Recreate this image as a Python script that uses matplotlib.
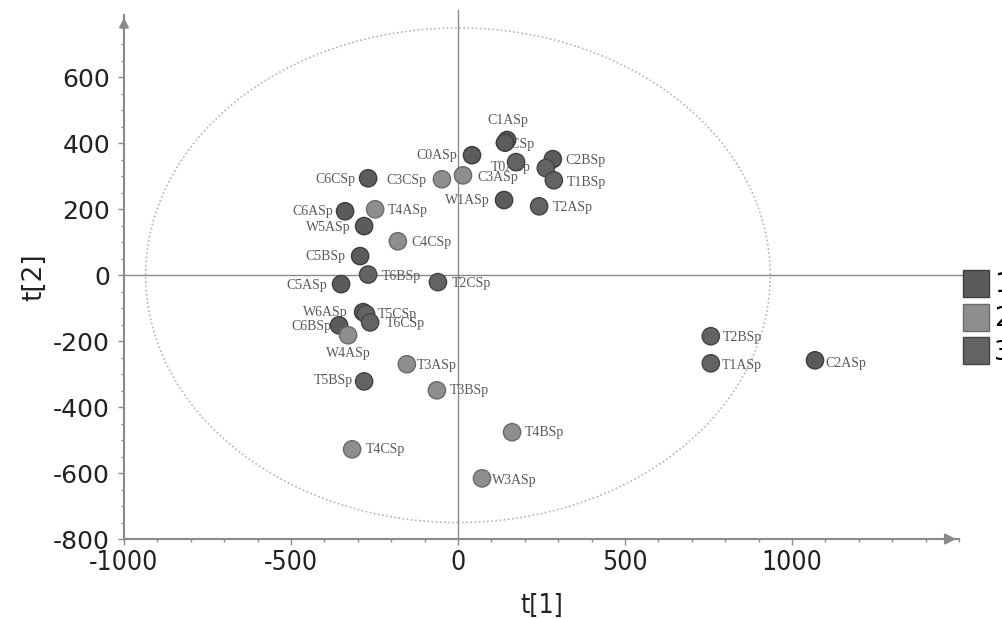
import matplotlib.pyplot as plt
from matplotlib.patches import Ellipse, Patch
from matplotlib.ticker import MultipleLocator

plt.rcParams['axes.unicode_minus'] = False

# PCA scores
names = ['C1ASp', 'C1CSp', 'C0ASp', 'T0ASp', 'C2BSp', '', 'T1BSp', 'C3ASp',
         'C3CSp', 'C6CSp', 'W1ASp', 'T2ASp', 'C6ASp', 'T4ASp', 'W5ASp',
         'C4CSp', 'C5BSp', 'T6BSp', 'T2CSp', 'C5ASp', 'W6ASp', 'T5CSp',
         'T6CSp', 'C6BSp', 'W4ASp', 'T3ASp', 'T5BSp', 'T3BSp', 'T4CSp',
         'T4BSp', 'W3ASp', 'T2BSp', 'T1ASp', 'C2ASp']
t1 = [147, 141, 42, 174, 284, 263, 287, 15,
      -48, -269, 138, 243, -338, -248, -281,
      -180, -293, -269, -60, -350, -284, -275,
      -263, -356, -329, -153, -281, -63, -317,
      162, 72, 757, 757, 1069]
t2 = [410, 402, 364, 343, 352, 325, 288, 303,
      291, 294, 228, 209, 194, 200, 149,
      103, 58, 2, -21, -27, -112, -118,
      -143, -152, -182, -270, -322, -349, -528,
      -476, -616, -185, -267, -258]
group = [1, 1, 1, 3, 1, 3, 3, 2,
         2, 1, 1, 3, 1, 2, 1,
         2, 1, 3, 3, 1, 1, 3,
         3, 1, 2, 2, 3, 2, 2,
         2, 2, 3, 3, 1]
legend_labels = ['1', '2', '3']

# label placement: (dx px, dy px up, ha)
label_pos = {
    'C1ASp': (1, 20, 'center'), 'C1CSp': (9, -2, 'center'),
    'C0ASp': (-15, 0, 'right'), 'T0ASp': (-5, -5, 'center'),
    'C2BSp': (13, -1, 'left'), 'T1BSp': (13, -2, 'left'),
    'C3ASp': (14, -2, 'left'), 'C3CSp': (-16, -1, 'right'),
    'C6CSp': (-13, -1, 'right'), 'W1ASp': (-14, 0, 'right'),
    'T2ASp': (14, -1, 'left'), 'C6ASp': (-12, 0, 'right'),
    'T4ASp': (13, -1, 'left'), 'W5ASp': (-14, -1, 'right'),
    'C4CSp': (14, -1, 'left'), 'C5BSp': (-15, 0, 'right'),
    'T6BSp': (14, -2, 'left'), 'T2CSp': (14, -1, 'left'),
    'C5ASp': (-14, -1, 'right'), 'W6ASp': (-16, 0, 'right'),
    'T5CSp': (12, 0, 'left'), 'T6CSp': (16, -1, 'left'),
    'C6BSp': (-8, -1, 'right'), 'W4ASp': (0, -18, 'center'),
    'T3ASp': (10, -1, 'left'), 'T5BSp': (-11, 1, 'right'),
    'T3BSp': (13, 0, 'left'), 'T4CSp': (14, 0, 'left'),
    'T4BSp': (13, 0, 'left'), 'W3ASp': (10, -2, 'left'),
    'T2BSp': (12, -1, 'left'), 'T1ASp': (11, -2, 'left'),
    'C2ASp': (10, -3, 'left'),
}

fill = {1: '#5b5b5b', 2: '#8e8e8e', 3: '#636363'}
edge = {1: '#3e3e3e', 2: '#6a6a6a', 3: '#444444'}
axcol = '#8a8a8a'

fig = plt.figure(figsize=(10.03, 6.19), dpi=100)
ax = fig.add_axes([0.1236, 0.1292, 0.8325, 0.847])
ax.set_xlim(-1000, 1500)
ax.set_ylim(-800, 790)

# Hotelling ellipse
ax.add_patch(Ellipse((0, 0), 1870, 1500, fill=False, ls=(0, (1, 1.5)),
                     lw=1.2, ec='#b5b5b5', zorder=1))

# zero lines
ax.plot([-1000, 1512], [0, 0], color=axcol, lw=1, clip_on=False, zorder=2)
ax.plot([0, 0], [-800, 804], color=axcol, lw=1, clip_on=False, zorder=2)

for n, x, y, g in zip(names, t1, t2, group):
    if not n:
        continue
    dx, dy, ha = label_pos[n]
    ax.annotate(n, (x, y), xytext=(dx * 0.72, dy * 0.72), textcoords='offset points',
                ha=ha, va='center', fontsize=10, family='Liberation Serif',
                color='#5a5a5a', zorder=3)

ax.scatter(t1, t2, s=155, c=[fill[g] for g in group],
           edgecolors=[edge[g] for g in group], linewidths=1, zorder=4)

# axes styling
for s in ['top', 'right']:
    ax.spines[s].set_visible(False)
for s in ['left', 'bottom']:
    ax.spines[s].set_color(axcol)
    ax.spines[s].set_linewidth(1.5)
ax.annotate('', xy=(1.0, 0), xycoords='axes fraction', xytext=(0.975, 0),
            arrowprops=dict(arrowstyle='-|>', color=axcol, lw=1.5, mutation_scale=16))
ax.annotate('', xy=(0, 1.0), xycoords='axes fraction', xytext=(0, 0.97),
            arrowprops=dict(arrowstyle='-|>', color=axcol, lw=1.5, mutation_scale=14))

ax.xaxis.set_minor_locator(MultipleLocator(100))
ax.yaxis.set_minor_locator(MultipleLocator(50))
ax.set_xticks([-1000, -500, 0, 500, 1000])
ax.set_yticks([-800, -600, -400, -200, 0, 200, 400, 600])
ax.tick_params(which='major', length=4, color=axcol, width=1)
ax.tick_params(which='minor', length=2.5, color=axcol, width=1)
ax.tick_params(axis='y', labelsize=18, pad=6, labelcolor='#222222')
ax.tick_params(axis='x', labelsize=19, pad=4, labelcolor='#222222')
for lab in ax.get_xticklabels():
    lab.set_family('DejaVu Sans')
    lab.set_fontstretch('condensed')

ax.set_xlabel('t[1]', fontsize=19, family='DejaVu Sans', fontstretch='condensed',
              color='#222222', labelpad=12)
ax.set_ylabel('t[2]', fontsize=19, color='#222222')
ax.yaxis.set_label_coords(-0.092, 0.5)

handles = [Patch(facecolor=fill[g], edgecolor=edge[g]) for g in (1, 2, 3)]
fig.legend(handles, legend_labels, loc='upper left', bbox_to_anchor=(963 / 1003, 1 - 270 / 619),
           frameon=False, borderpad=0, borderaxespad=0, fontsize=19,
           handlelength=0.98, handleheight=1.2, labelspacing=0.2, handletextpad=0.2)

fig.savefig('out.png', dpi=100)
